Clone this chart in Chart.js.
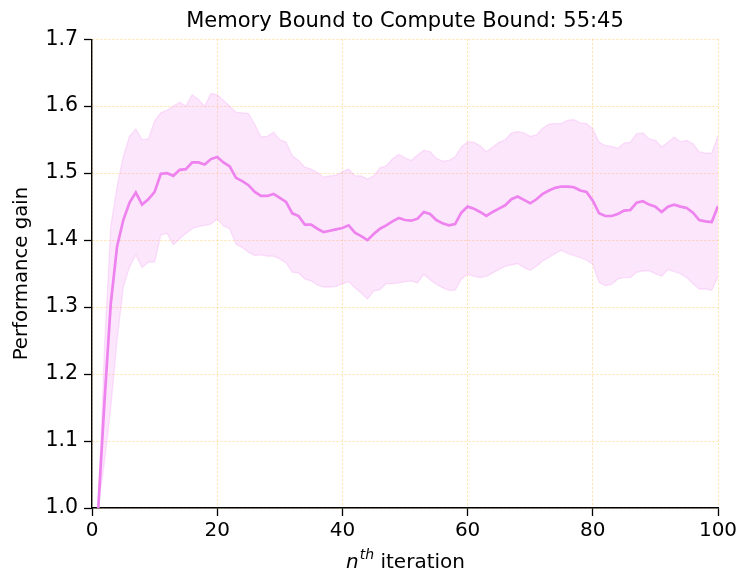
<!DOCTYPE html>
<html>
<head>
<meta charset="utf-8">
<script src="https://cdn.jsdelivr.net/npm/chart.js@4.4.1/dist/chart.umd.min.js"></script>
<style>
  html, body { margin: 0; padding: 0; background: #ffffff; }
  #wrap { width: 738px; height: 571px; }
</style>
</head>
<body>
<div id="wrap"><canvas id="c" width="738" height="571"></canvas></div>
<script>
const chartTitle = "Memory Bound to Compute Bound: 55:45";
const yTitle = "Performance gain";
const xTitleParts = ["n", "th", " iteration"];

const iterations = [1,2,3,4,5,6,7,8,9,10,11,12,13,14,15,16,17,18,19,20,
  21,22,23,24,25,26,27,28,29,30,31,32,33,34,35,36,37,38,39,40,
  41,42,43,44,45,46,47,48,49,50,51,52,53,54,55,56,57,58,59,60,
  61,62,63,64,65,66,67,68,69,70,71,72,73,74,75,76,77,78,79,80,
  81,82,83,84,85,86,87,88,89,90,91,92,93,94,95,96,97,98,99,100];

const meanGain = [1.000,1.160,1.305,1.390,1.430,1.456,1.471,1.453,1.461,1.472,
  1.499,1.500,1.496,1.505,1.506,1.516,1.516,1.513,1.521,1.524,
  1.516,1.510,1.493,1.488,1.482,1.472,1.466,1.466,1.469,1.463,
  1.457,1.440,1.436,1.423,1.423,1.417,1.412,1.414,1.416,1.418,
  1.422,1.411,1.406,1.400,1.409,1.417,1.422,1.428,1.433,1.430,
  1.429,1.432,1.442,1.439,1.430,1.425,1.422,1.424,1.441,1.450,
  1.447,1.442,1.436,1.442,1.447,1.452,1.461,1.465,1.460,1.455,
  1.461,1.469,1.474,1.478,1.480,1.480,1.479,1.474,1.472,1.459,
  1.440,1.436,1.436,1.439,1.444,1.445,1.456,1.458,1.453,1.450,
  1.442,1.450,1.453,1.450,1.448,1.441,1.430,1.428,1.427,1.451];

const upperGain = [1.000,1.240,1.420,1.480,1.525,1.555,1.566,1.550,1.551,1.578,
  1.590,1.594,1.600,1.606,1.600,1.617,1.610,1.600,1.619,1.617,
  1.609,1.600,1.591,1.590,1.589,1.573,1.554,1.555,1.561,1.550,
  1.546,1.526,1.519,1.509,1.506,1.501,1.494,1.496,1.497,1.502,
  1.506,1.496,1.496,1.491,1.496,1.508,1.511,1.521,1.528,1.523,
  1.519,1.527,1.534,1.532,1.522,1.518,1.519,1.524,1.539,1.547,
  1.546,1.541,1.532,1.539,1.546,1.550,1.560,1.562,1.560,1.555,
  1.557,1.567,1.573,1.574,1.574,1.579,1.580,1.575,1.574,1.566,
  1.546,1.541,1.540,1.537,1.545,1.546,1.559,1.560,1.551,1.549,
  1.539,1.546,1.554,1.547,1.549,1.544,1.532,1.530,1.530,1.556];

const lowerGain = [1.000,1.070,1.150,1.250,1.330,1.360,1.378,1.359,1.367,1.367,
  1.408,1.410,1.393,1.402,1.410,1.417,1.420,1.422,1.424,1.432,
  1.421,1.417,1.394,1.389,1.382,1.377,1.378,1.376,1.376,1.372,
  1.366,1.352,1.351,1.342,1.339,1.333,1.330,1.330,1.331,1.335,
  1.338,1.329,1.321,1.312,1.324,1.326,1.335,1.335,1.336,1.338,
  1.339,1.336,1.349,1.341,1.334,1.329,1.325,1.325,1.342,1.349,
  1.346,1.344,1.346,1.351,1.356,1.361,1.363,1.365,1.359,1.355,
  1.361,1.369,1.374,1.380,1.385,1.380,1.377,1.374,1.370,1.364,
  1.337,1.332,1.334,1.342,1.344,1.344,1.352,1.354,1.354,1.350,
  1.346,1.356,1.353,1.350,1.344,1.335,1.327,1.327,1.325,1.346];

const xTicks = [0, 20, 40, 60, 80, 100];
const yTicks = [1.0, 1.1, 1.2, 1.3, 1.4, 1.5, 1.6, 1.7];

const FONT = "'DejaVu Sans', 'Liberation Sans', sans-serif";
const VIOLET = "rgb(238,130,238)";

function pts(vals) { return iterations.map((x, i) => ({ x: x, y: vals[i] })); }

const xTitlePlugin = {
  id: 'xTitle',
  afterDraw(chart) {
    const ctx = chart.ctx;
    const area = chart.chartArea;
    const cx = (area.left + area.right) / 2;
    const base = 568;
    ctx.save();
    ctx.fillStyle = '#000';
    ctx.textBaseline = 'alphabetic';
    const f1 = "italic 20px " + FONT, f2 = "italic 14px " + FONT, f3 = "20px " + FONT;
    ctx.font = f1; const w1 = ctx.measureText(xTitleParts[0]).width;
    ctx.font = f2; const w2 = ctx.measureText(xTitleParts[1]).width;
    ctx.font = f3; const w3 = ctx.measureText(xTitleParts[2]).width;
    let x = cx - (w1 + w2 + w3) / 2;
    ctx.textAlign = 'left';
    ctx.font = f1; ctx.fillText(xTitleParts[0], x, base); x += w1 + 1;
    ctx.font = f2; ctx.fillText(xTitleParts[1], x, base - 9); x += w2;
    ctx.font = f3; ctx.fillText(xTitleParts[2], x, base);
    ctx.restore();
  }
};

new Chart(document.getElementById('c'), {
  type: 'line',
  data: {
    datasets: [
      {
        label: 'mean',
        data: pts(meanGain),
        borderColor: VIOLET,
        borderWidth: 2.7,
        pointRadius: 0,
        fill: false,
        tension: 0,
        order: 0
      },
      {
        label: 'upper',
        data: pts(upperGain),
        borderColor: 'rgba(238,130,238,0.22)',
        borderWidth: 1.3,
        backgroundColor: 'rgba(238,130,238,0.2)',
        pointRadius: 0,
        fill: '+1',
        tension: 0,
        order: 1
      },
      {
        label: 'lower',
        data: pts(lowerGain),
        borderColor: 'rgba(238,130,238,0.22)',
        borderWidth: 1.3,
        pointRadius: 0,
        fill: false,
        tension: 0,
        order: 2
      }
    ]
  },
  options: {
    responsive: false,
    animation: false,
    devicePixelRatio: 1,
    layout: { padding: { left: 0, right: 20, top: 0, bottom: 0 } },
    plugins: {
      legend: { display: false },
      tooltip: { enabled: false },
      title: {
        display: true,
        fullSize: false,
        text: chartTitle,
        color: '#000',
        font: { family: FONT, size: 21, weight: 'normal' },
        padding: { top: 9, bottom: 5 }
      }
    },
    scales: {
      x: {
        type: 'linear',
        min: 0,
        max: 100,
        afterFit(scale) { scale.height = 63; scale.paddingRight = 0; scale.paddingLeft = 0; },
        afterBuildTicks(scale) { scale.ticks = xTicks.map(v => ({ value: v })); },
        ticks: {
          color: '#000',
          font: { family: FONT, size: 20 },
          padding: 3,
          maxRotation: 0,
          callback: v => String(v)
        },
        grid: {
          color: 'rgba(255,165,0,0.32)',
          lineWidth: 1,
          tickColor: '#000',
          tickWidth: 1.3,
          tickLength: 8,
          tickBorderDash: []
        },
        border: { display: true, color: '#000', width: 1.4, dash: [2, 2] },
        title: { display: false }
      },
      y: {
        min: 1.0,
        max: 1.7,
        afterFit(scale) { scale.width = 92; scale.paddingTop = 0; scale.paddingBottom = 0; },
        afterBuildTicks(scale) { scale.ticks = yTicks.map(v => ({ value: v })); },
        ticks: {
          color: '#000',
          font: { family: FONT, size: 20.5 },
          padding: 6,
          callback: v => Number(v).toFixed(1)
        },
        grid: {
          color: 'rgba(255,165,0,0.32)',
          lineWidth: 1,
          tickColor: '#000',
          tickWidth: 1.3,
          tickLength: 8,
          tickBorderDash: []
        },
        border: { display: true, color: '#000', width: 1.4, dash: [2, 2] },
        title: {
          display: true,
          text: yTitle,
          color: '#000',
          font: { family: FONT, size: 19.7 },
          padding: { top: 10, bottom: 0 }
        }
      }
    }
  },
  plugins: [xTitlePlugin]
});
</script>
</body>
</html>
